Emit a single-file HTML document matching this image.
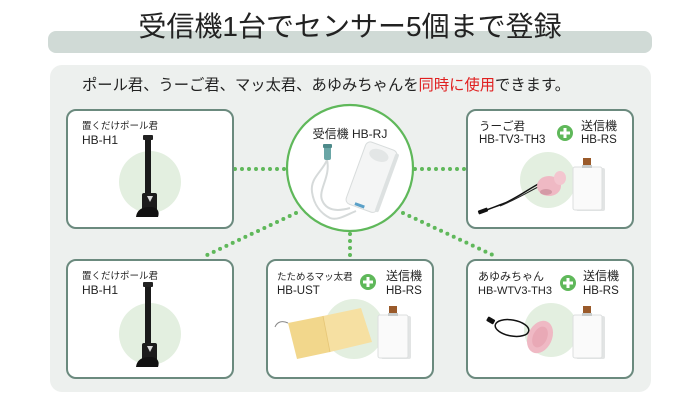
<!DOCTYPE html>
<html><head><meta charset="utf-8">
<style>
html,body{margin:0;padding:0;background:#fff;}
svg{display:block;}
text{font-family:"Liberation Sans","Noto Sans CJK JP",sans-serif;fill:#222;}
</style></head>
<body>
<svg width="700" height="400" viewBox="0 0 700 400" xmlns="http://www.w3.org/2000/svg">
<rect x="0" y="0" width="700" height="400" fill="#fff"/>
<!-- title bar -->
<rect x="48" y="31" width="604" height="22" rx="8" fill="#d0dad6"/>
<text x="350" y="36" font-size="28" text-anchor="middle" fill="#1a1a1a">受信機1台でセンサー5個まで登録</text>
<!-- panel -->
<rect x="50" y="65" width="601" height="327" rx="12" fill="#edf0ee"/>
<text x="82" y="90" font-size="15.3">ポール君、うーご君、マッ太君、あゆみちゃんを<tspan fill="#e02020">同時に使用</tspan>できます。</text>

<!-- dotted connectors -->
<g stroke="#5fb85a" stroke-width="4" stroke-linecap="round" stroke-dasharray="0 7" fill="none">
<line x1="235" y1="169" x2="285" y2="169"/>
<line x1="415" y1="169" x2="465" y2="169"/>
<line x1="296" y1="213" x2="205" y2="256"/>
<line x1="350" y1="234" x2="350" y2="258"/>
<line x1="403" y1="213" x2="497" y2="257"/>
</g>

<!-- boxes -->
<g fill="#fff" stroke="#6b8a7e" stroke-width="2">
<rect x="67" y="110" width="166" height="118" rx="9"/>
<rect x="467" y="110" width="166" height="118" rx="9"/>
<rect x="67" y="260" width="166" height="118" rx="9"/>
<rect x="267" y="260" width="166" height="118" rx="9"/>
<rect x="467" y="260" width="166" height="118" rx="9"/>
</g>

<!-- center circle -->
<circle cx="350" cy="168" r="63" fill="#fff" stroke="#5fb85a" stroke-width="2.2"/>
<text x="350" y="138" font-size="12" text-anchor="middle">受信機 HB-RJ</text>
<!-- receiver cable -->
<path d="M327,160 C322,172 310,178 312,192 C314,206 322,214 330,218 C338,221 348,214 356,211 M327,160 C331,176 318,190 322,200 C326,210 336,212 350,208" fill="none" stroke="#d6dada" stroke-width="2"/>
<rect x="324" y="146" width="7" height="14" rx="2" fill="#6aa6a6"/>
<rect x="323" y="144" width="9" height="4" rx="1" fill="#4d8a8a"/>
<!-- receiver body -->
<g transform="rotate(20 371 177)">
<rect x="355" y="144" width="33" height="66" rx="5" fill="#f4f5f5" stroke="#d8dcdc" stroke-width="1"/>
<rect x="386" y="146" width="4" height="62" rx="2" fill="#dde1e1"/>
<ellipse cx="371" cy="154" rx="10" ry="6" fill="#e3e6e6"/>
<rect x="365" y="206" width="10" height="3" fill="#5aa0c8"/>
</g>

<!-- light green circles -->
<g fill="#e3efe0">
<circle cx="150" cy="182" r="31"/>
<circle cx="548" cy="180" r="28"/>
<circle cx="150" cy="334" r="31"/>
<circle cx="354" cy="329" r="30"/>
<circle cx="551" cy="330" r="27"/>
</g>

<!-- top-left pole -->
<text x="82" y="129" font-size="9.5">置くだけポール君</text>
<text x="82" y="144" font-size="12">HB-H1</text>
<g>
<rect x="145" y="138" width="6" height="60" fill="#1a1a1a"/>
<rect x="143" y="135" width="10" height="5" rx="1" fill="#222"/>
<rect x="142" y="193" width="15" height="18" rx="2" fill="#1c1c1c"/>
<path d="M147,196 L150,202 L153,196 Z" fill="#ddd"/>
<path d="M136,217 C137,209 143,207 150,207 C157,207 160,211 158,217 Z" fill="#111"/>
</g>

<!-- bottom-left pole -->
<text x="82" y="279" font-size="9.5">置くだけポール君</text>
<text x="82" y="294" font-size="12">HB-H1</text>
<g>
<rect x="145" y="285" width="6" height="63" fill="#1a1a1a"/>
<rect x="143" y="282" width="10" height="5" rx="1" fill="#222"/>
<rect x="142" y="343" width="15" height="18" rx="2" fill="#1c1c1c"/>
<path d="M147,346 L150,352 L153,346 Z" fill="#ddd"/>
<path d="M136,367 C137,359 143,357 150,357 C157,357 160,361 158,367 Z" fill="#111"/>
</g>

<!-- plus icons -->
<g>
<circle cx="565" cy="133" r="8" fill="#5fb85a"/>
<rect x="560" y="131.5" width="10" height="3" fill="#fff"/><rect x="563.5" y="128" width="3" height="10" fill="#fff"/>
<circle cx="368" cy="282" r="8" fill="#5fb85a"/>
<rect x="363" y="280.5" width="10" height="3" fill="#fff"/><rect x="366.5" y="277" width="3" height="10" fill="#fff"/>
<circle cx="568" cy="283" r="8" fill="#5fb85a"/>
<rect x="563" y="281.5" width="10" height="3" fill="#fff"/><rect x="566.5" y="278" width="3" height="10" fill="#fff"/>
</g>

<!-- top-right -->
<text x="479" y="130" font-size="11.5">うーご君</text>
<text x="479" y="143" font-size="11.5">HB-TV3-TH3</text>
<text x="581" y="130" font-size="12">送信機</text>
<text x="581" y="143" font-size="11.5">HB-RS</text>
<path d="M542,182 C530,188 520,196 505,203 C495,207 488,209 482,212" fill="none" stroke="#111" stroke-width="1.5"/>
<path d="M540,186 C528,192 515,200 500,206" fill="none" stroke="#222" stroke-width="1"/>
<rect x="478" y="209" width="10" height="4" rx="1" fill="#111" transform="rotate(-20 483 211)"/>
<ellipse cx="549" cy="186" rx="12" ry="10" fill="#efb9c4"/>
<ellipse cx="560" cy="178" rx="6" ry="7" fill="#f3c6cf"/>
<ellipse cx="546" cy="192" rx="6" ry="3" fill="#d49aa6"/>
<!-- transmitter top-right -->
<rect x="576" y="168" width="29" height="43" rx="2" fill="#e2e4e4"/>
<rect x="573" y="167" width="29" height="43" rx="2" fill="#fafafa" stroke="#dcdfdf" stroke-width="1"/>
<rect x="583" y="158" width="8" height="8" fill="#9a5a2a"/>
<rect x="582" y="165" width="10" height="3" fill="#c8cccc"/>

<!-- bottom-mid -->
<text x="277" y="280" font-size="9.5">たためるマッ太君</text>
<text x="277" y="294" font-size="11.5">HB-UST</text>
<text x="386" y="280" font-size="12">送信機</text>
<text x="386" y="294" font-size="11.5">HB-RS</text>
<path d="M288,323 C282,320 277,322 275,327" fill="none" stroke="#888" stroke-width="1"/>
<polygon points="288,323 323,316 330,352 297,359" fill="#f2d78c"/>
<polygon points="323,316 361,308 372,342 330,352" fill="#f6e0a2"/>
<line x1="323" y1="316" x2="330" y2="352" stroke="#e6c677" stroke-width="0.8"/>
<rect x="381" y="316" width="30" height="43" rx="2" fill="#e2e4e4"/>
<rect x="378" y="315" width="30" height="43" rx="2" fill="#fafafa" stroke="#dcdfdf" stroke-width="1"/>
<rect x="389" y="306" width="8" height="8" fill="#9a5a2a"/>
<rect x="388" y="313" width="10" height="3" fill="#c8cccc"/>

<!-- bottom-right -->
<text x="478" y="280" font-size="11">あゆみちゃん</text>
<text x="478" y="294" font-size="11">HB-WTV3-TH3</text>
<text x="583" y="280" font-size="12">送信機</text>
<text x="583" y="294" font-size="11.5">HB-RS</text>
<ellipse cx="512" cy="328" rx="17" ry="8" fill="none" stroke="#111" stroke-width="1.5" transform="rotate(10 512 328)"/>
<rect x="487" y="318" width="8" height="5" rx="1" fill="#111" transform="rotate(30 491 320)"/>
<ellipse cx="540" cy="337" rx="12" ry="17" fill="#efb9c4" transform="rotate(25 540 337)"/>
<ellipse cx="540" cy="337" rx="7" ry="11" fill="#e9a9b6" transform="rotate(25 540 337)"/>
<rect x="576" y="316" width="29" height="43" rx="2" fill="#e2e4e4"/>
<rect x="573" y="315" width="29" height="43" rx="2" fill="#fafafa" stroke="#dcdfdf" stroke-width="1"/>
<rect x="583" y="306" width="8" height="8" fill="#9a5a2a"/>
<rect x="582" y="313" width="10" height="3" fill="#c8cccc"/>
</svg>
</body></html>
